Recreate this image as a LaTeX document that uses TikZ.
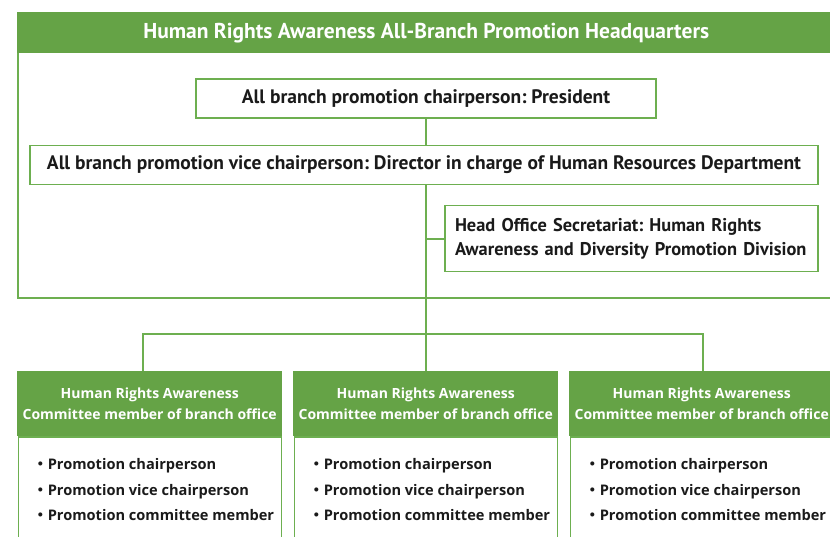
\documentclass[tikz,border=0pt]{standalone}
\usepackage{fontspec}
\setmainfont{PT Sans}
\newfontfamily\branchfont{Open Sans}
\newfontfamily\cjk{Noto Sans CJK JP}
\usetikzlibrary{positioning}
\definecolor{leaf}{HTML}{65A346}
\definecolor{leafline}{HTML}{6DAF50}
\definecolor{ink}{HTML}{1A1A1A}
\frenchspacing
\tikzset{
  % Headquarters frame and title band
  hqframe/.style={
    rectangle, draw=leafline, line width=1.6pt, anchor=north west, inner sep=0pt
  },
  hqtitle/.style={
    rectangle, fill=leaf, text=white, anchor=north west, inner sep=0pt,
    font=\fontsize{21.5}{24}\selectfont\bfseries
  },
  % Officer boxes
  officer/.style={
    rectangle, draw=leafline, line width=1.6pt, fill=white, text=ink,
    inner sep=0pt, font=\fontsize{19.5}{24}\selectfont\bfseries
  },
  % Branch office blocks
  branchhead/.style={
    rectangle, fill=leaf, text=white, anchor=north west, inner sep=0pt,
    align=center, minimum width=265pt, minimum height=65pt,
    font=\branchfont\fontsize{14}{20.5}\selectfont\bfseries
  },
  branchbody/.style={
    rectangle, draw=leafline, line width=1.4pt, fill=white, inner sep=0pt,
    minimum width=263pt, minimum height=130pt
  },
  memberlist/.style={
    anchor=north west, align=left, inner sep=0pt, text=ink,
    font=\branchfont\fontsize{14.6}{25.5}\selectfont\bfseries
  },
  % Connectors
  link/.style={draw=leafline, line width=2pt},
}

\begin{document}
\begin{tikzpicture}[x=1pt, y=-1pt]
  \clip (0,0) rectangle (830,537);
  \fill[white] (0,0) rectangle (830,537);

  % Headquarters
  \node[hqframe, minimum width=818pt, minimum height=285pt] (hqbox) at (17,12) {};
  \node[hqtitle, minimum width=818pt, minimum height=41pt] (hqhead) at (17,12)
    {Human Rights Awareness All-Branch Promotion Headquarters};

  % Officers
  \node[officer, minimum width=460pt, minimum height=39pt] (chair) at (426,98.5)
    {All branch promotion chairperson: President};
  \node[officer, minimum width=788pt, minimum height=39pt] (vice) at (424,165)
    {All branch promotion vice chairperson: Director in charge of Human Resources Department};
  \node[officer, minimum width=373pt, minimum height=66pt, align=left,
        text width=353pt, inner xsep=10pt, font=\fontsize{18.4}{24}\selectfont\bfseries]
        (secretariat) at (631.5,238.7)
    {Head Office Secretariat: Human Rights\\Awareness and Diversity Promotion Division};

  % Branch offices
  \foreach \i/\x in {1/17, 2/293, 3/569} {
    \node[branchhead] (b\i head) at (\x,371)
      {Human Rights Awareness\\Committee member of branch office};
    \node[branchbody, below=0pt of b\i head] (b\i body) {};
    \node[memberlist] (b\i list) at (\x+16,458.5)
      {{\cjk ・}Promotion chairperson\\{\cjk ・}Promotion vice chairperson\\{\cjk ・}Promotion committee member};
  }

  % Connectors
  \coordinate (split) at (426,334);
  \draw[link] (chair.south) -- (chair.south |- vice.north);
  \draw[link] (chair.south |- vice.south) -- (split);
  \draw[link] (secretariat.west) -- (secretariat.west -| split);
  \draw[link] (split) -- (split |- b2head.north);
  \draw[link] ([xshift=-7pt]b1head.north) |- (split) -| ([xshift=1pt]b3head.north);
\end{tikzpicture}
\end{document}
